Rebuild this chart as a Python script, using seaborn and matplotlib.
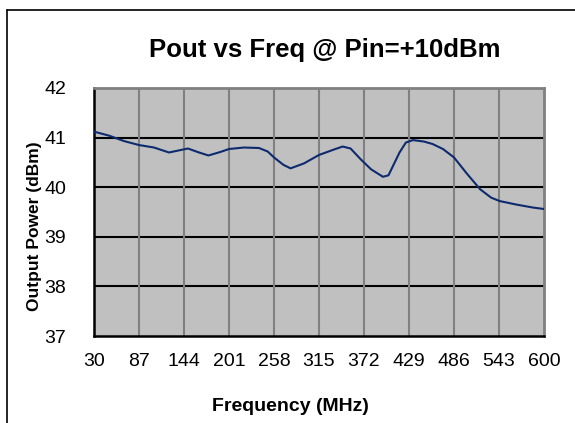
import matplotlib
matplotlib.use('Agg')
import matplotlib.pyplot as plt
from matplotlib.lines import Line2D
import pandas as pd
import seaborn as sns

# data
freq_mhz = [30, 49, 68, 87, 106, 125, 149, 163, 175, 190, 201, 220, 239, 250, 258, 270,
            279, 296, 315, 334, 345, 355, 368, 381, 396, 403, 417, 425, 434, 448, 459,
            472, 486, 502, 519, 533, 544, 565, 586, 600]
pout_dbm = [41.12, 41.04, 40.93, 40.85, 40.80, 40.70, 40.78, 40.70, 40.64, 40.71, 40.77,
            40.80, 40.79, 40.72, 40.60, 40.45, 40.38, 40.48, 40.65, 40.76, 40.82, 40.78,
            40.56, 40.36, 40.21, 40.24, 40.70, 40.90, 40.95, 40.92, 40.87, 40.77, 40.60,
            40.28, 39.96, 39.79, 39.72, 39.65, 39.59, 39.56]
x_ticks = [30, 87, 144, 201, 258, 315, 372, 429, 486, 543, 600]
y_ticks = [37, 38, 39, 40, 41, 42]

df = pd.DataFrame({'freq': freq_mhz, 'pout': pout_dbm})

sns.set_style('white')
plt.rcParams['font.family'] = ['Liberation Sans', 'DejaVu Sans']
plt.rcParams['text.color'] = 'black'

W, H = 575, 423
fig = plt.figure(figsize=(W / 100, H / 100), dpi=100)
ax = fig.add_axes([94 / W, 1 - 336 / H, (544 - 94) / W, (336 - 88) / H])
ax.set_facecolor('#C0C0C0')

# gridlines: black horizontal, gray vertical
for y in y_ticks[1:-1]:
    ax.axhline(y, color='black', lw=1.5, zorder=1)
for x in x_ticks[1:-1]:
    ax.axvline(x, color='#808080', lw=1.5, zorder=1)

sns.lineplot(data=df, x='freq', y='pout', ax=ax, color='#0d2a6e', lw=1.5, zorder=3)

ax.set_xlim(30, 600)
ax.set_ylim(37, 42)
ax.set_xticks(x_ticks)
ax.set_yticks(y_ticks)
ax.tick_params(axis='both', direction='out', length=5, width=1.2, color='black',
               labelsize=14, labelcolor='black')
ax.tick_params(axis='x', pad=7)
ax.tick_params(axis='y', pad=15)

for side in ['left', 'bottom']:
    ax.spines[side].set_color('black')
    ax.spines[side].set_linewidth(1.8)
for side in ['top', 'right']:
    ax.spines[side].set_color('#808080')
    ax.spines[side].set_linewidth(2.0)

ax.set_xlabel('')
ax.set_ylabel('')
fig.text(290 / W, 1 - 406 / H, 'Frequency (MHz)', ha='center', va='center',
         fontsize=14, fontweight='bold')
fig.text(35 / W, 1 - 226 / H, 'Output Power (dBm)', ha='center', va='center',
         rotation=90, fontsize=12.5, fontweight='bold')
fig.text(325 / W, 1 - 50 / H, 'Pout vs Freq @ Pin=+10dBm', ha='center', va='center',
         fontsize=18.5, fontweight='bold')

# chart-area border (cut off at the right and bottom in the reference)
fig.add_artist(Line2D([6.5 / W, 6.5 / W], [0, 1 - 10 / H], color='black', lw=1.2))
fig.add_artist(Line2D([6.5 / W, 1], [1 - 10 / H, 1 - 10 / H], color='black', lw=1.2))

fig.savefig('out.png', dpi=100)
